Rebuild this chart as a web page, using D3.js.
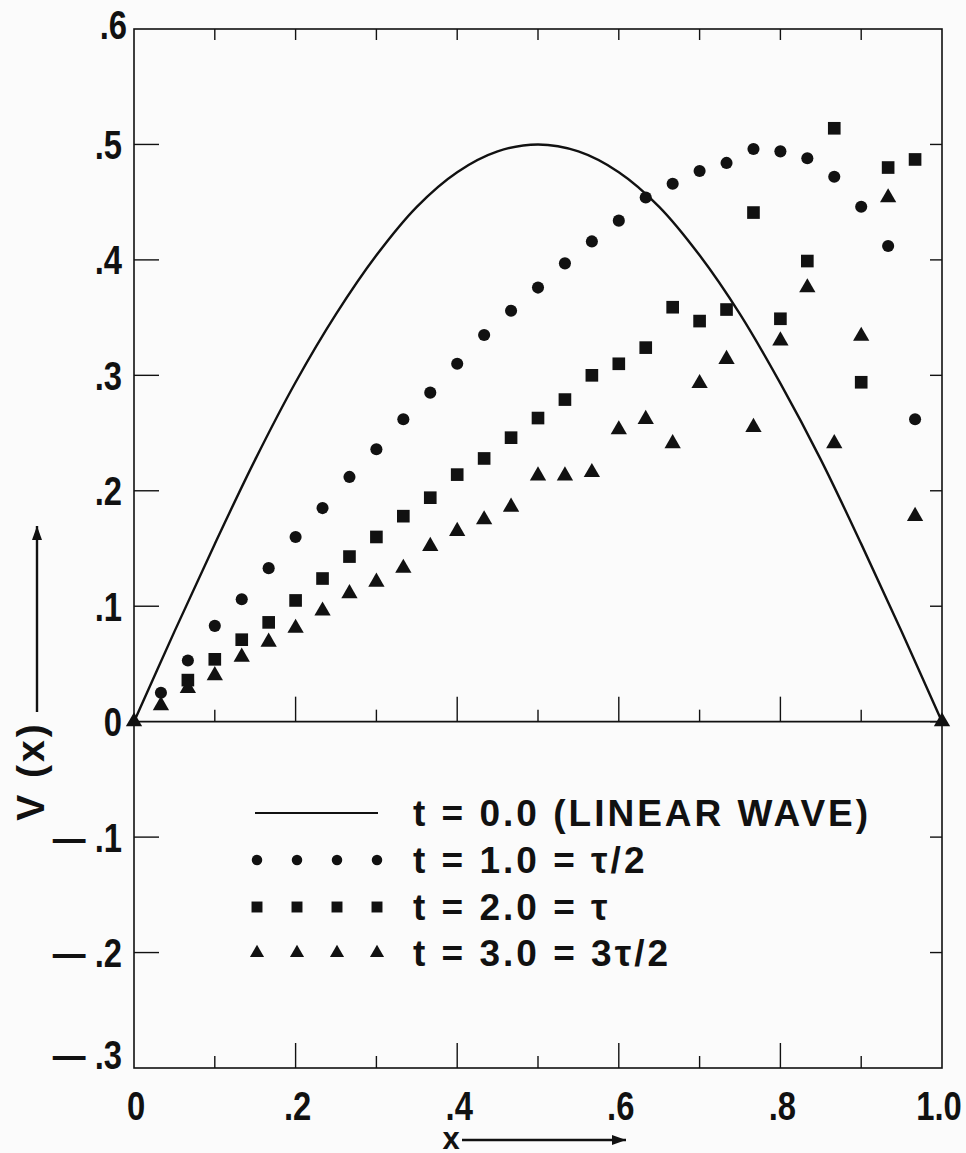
<!DOCTYPE html>
<html>
<head>
<meta charset="utf-8">
<script src="https://cdn.jsdelivr.net/npm/d3@7"></script>
<style>
  body { margin: 0; background: #fbfbfb; }
  svg { display: block; }
  .tick-label { font-family: "Liberation Sans", Arial, sans-serif; font-weight: bold; font-size: 40px; fill: #111; }
  .legend-label { font-family: "Liberation Sans", Arial, sans-serif; font-weight: bold; font-size: 37px; fill: #111; }
</style>
</head>
<body>
<svg id="chart" width="966" height="1153"></svg>
<script>
// x positions of the computed points (k/30)
const xPoints = d3.range(0, 31).map(k => k / 30);

// t = 1.0 (circles), index = k
const circleValues = [null, .025, .053, .083, .106, .133, .160, .185, .212, .236, .262,
    .285, .310, .335, .356, .376, .397, .416, .434, .454, .466,
    .477, .484, .496, .494, .488, .472, .446, .412, .262, null];

// t = 2.0 (squares)
const squareValues = [null, null, .036, .054, .071, .086, .105, .124, .143, .160, .178,
    .194, .214, .228, .246, .263, .279, .300, .310, .324, .359,
    .347, .357, .441, .349, .399, .514, .294, .480, .487, null];

// t = 3.0 (triangles)
const triangleValues = [0, .014, .029, .040, .056, .069, .081, .096, .111, .121, .133,
    .152, .165, .175, .186, .213, .213, .216, .253, .262, .241,
    .293, .314, .255, .330, .376, .241, .334, .454, .178, 0];

// t = 0.0 linear wave
const waveX = [0, .05, .1, .15, .2, .25, .3, .35, .4, .45, .5, .55, .6, .65, .7, .75, .8, .85, .9, .95, 1];
const waveY = [0, .078, .154, .227, .294, .353, .404, .446, .476, .494, .5, .494, .476, .446, .404, .353, .293, .227, .154, .078, 0];

const xTickLabels = ['0', '.2', '.4', '.6', '.8', '1.0'];
const yTickLabels = ['.6', '.5', '.4', '.3', '.2', '.1', '0', '\u2014 .1', '\u2014 .2', '\u2014 .3'];

const legendLabels = ['t = 0.0 (LINEAR WAVE)', 't = 1.0 = \u03c4/2', 't = 2.0 = \u03c4', 't = 3.0 = 3\u03c4/2'];

const svg = d3.select('#chart');
const ink = '#111';
const squeeze = 0.82;

const x = d3.scaleLinear().domain([0, 1]).range([134, 942]);
const y = d3.scaleLinear().domain([-.3, .6]).range([1068, 29]);

// frame
svg.append('rect')
    .attr('x', x(0)).attr('y', y(.6))
    .attr('width', x(1) - x(0)).attr('height', y(-.3) - y(.6))
    .attr('fill', 'none').attr('stroke', ink).attr('stroke-width', 1.6);

// zero line
svg.append('line')
    .attr('x1', x(0)).attr('x2', x(1)).attr('y1', y(0)).attr('y2', y(0))
    .attr('stroke', ink).attr('stroke-width', 1.6);

const tenths = d3.range(1, 10).map(i => i / 10);
const yTenths = d3.range(-2, 6).map(i => i / 10);

// ticks on zero line and bottom: long on even tenths
[0, -.3].forEach(base => {
    svg.append('g').selectAll('line')
        .data(tenths)
        .enter().append('line')
        .attr('x1', d => x(d)).attr('x2', d => x(d))
        .attr('y1', y(base))
        .attr('y2', (d, i) => y(base) - (i % 2 === 1 ? 25 : 12))
        .attr('stroke', ink).attr('stroke-width', 1.4);
});

// top ticks
svg.append('g').selectAll('line')
    .data(tenths)
    .enter().append('line')
    .attr('x1', d => x(d)).attr('x2', d => x(d))
    .attr('y1', y(.6)).attr('y2', y(.6) + 11)
    .attr('stroke', ink).attr('stroke-width', 1.4);

// left and right ticks
svg.append('g').selectAll('line')
    .data(yTenths.filter(d => Math.abs(d) > 1e-9))
    .enter().append('line')
    .attr('x1', x(0)).attr('x2', x(0) + 25)
    .attr('y1', d => y(d)).attr('y2', d => y(d))
    .attr('stroke', ink).attr('stroke-width', 1.4);

svg.append('g').selectAll('line')
    .data(yTenths)
    .enter().append('line')
    .attr('x1', x(1)).attr('x2', x(1) - 12)
    .attr('y1', d => y(d)).attr('y2', d => y(d))
    .attr('stroke', ink).attr('stroke-width', 1.4);

// tick labels, narrowed to look like a condensed face
svg.append('g').selectAll('text')
    .data(xTickLabels)
    .enter().append('text')
    .attr('class', 'tick-label')
    .attr('transform', (d, i) => `translate(${x(i * .2) + (i === 5 ? -3 : 2)}, 1120) scale(${squeeze}, 1)`)
    .attr('text-anchor', 'middle')
    .text(d => d);

svg.append('g').selectAll('text')
    .data(yTickLabels)
    .enter().append('text')
    .attr('class', 'tick-label')
    .attr('transform', (d, i) => {
        let c = y(.6 - i * .1);
        if (i === 0) c -= 5;
        if (i === 9) c -= 14;
        return `translate(${i === 0 ? 127 : 122}, ${c + 14.5}) scale(${squeeze}, 1)`;
    })
    .attr('text-anchor', 'end')
    .text(d => d);

// axis titles
svg.append('text')
    .attr('class', 'legend-label')
    .attr('transform', 'translate(44, 771) rotate(-90)')
    .attr('text-anchor', 'middle')
    .style('font-size', '39px')
    .style('letter-spacing', '3px')
    .text('V (x)');

const arrow = (x1, y1, x2, y2) => {
    svg.append('line')
        .attr('x1', x1).attr('y1', y1).attr('x2', x2).attr('y2', y2)
        .attr('stroke', ink).attr('stroke-width', 2.4);
    const ang = Math.atan2(y2 - y1, x2 - x1);
    const len = 14;
    const w = 5;
    const bx = x2 - len * Math.cos(ang);
    const by = y2 - len * Math.sin(ang);
    const px = -Math.sin(ang) * w;
    const py = Math.cos(ang) * w;
    svg.append('path')
        .attr('d', `M${x2},${y2}L${bx + px},${by + py}L${bx - px},${by - py}Z`)
        .attr('fill', ink);
};

arrow(37, 712, 37, 526);

svg.append('text')
    .attr('class', 'legend-label')
    .attr('x', 451).attr('y', 1149)
    .attr('text-anchor', 'middle')
    .style('font-size', '31px')
    .text('x');
arrow(462, 1140, 626, 1140);

// wave curve
const wave = waveX.map((d, i) => [d, waveY[i]]);
svg.append('path')
    .datum(wave)
    .attr('d', d3.line().x(d => x(d[0])).y(d => y(d[1])).curve(d3.curveCatmullRom))
    .attr('fill', 'none').attr('stroke', ink).attr('stroke-width', 2.4);

// point series
const series = [
    {values: circleValues, type: d3.symbolCircle, size: 115},
    {values: squareValues, type: d3.symbolSquare, size: 160},
    {values: triangleValues, type: d3.symbolTriangle, size: 115}
];

series.forEach(s => {
    const pts = xPoints.map((d, i) => [d, s.values[i]]).filter(p => p[1] !== null);
    svg.append('g').selectAll('path')
        .data(pts)
        .enter().append('path')
        .attr('d', d3.symbol().type(s.type).size(s.size))
        .attr('transform', d => `translate(${x(d[0])}, ${y(d[1])})`)
        .attr('fill', ink);
});

// legend
const rowY = [813, 860, 907, 953];
const markX = [257, 297, 337, 377];

svg.append('line')
    .attr('x1', 255).attr('x2', 378).attr('y1', rowY[0]).attr('y2', rowY[0])
    .attr('stroke', ink).attr('stroke-width', 2);

series.forEach((s, j) => {
    svg.append('g').selectAll('path')
        .data(markX)
        .enter().append('path')
        .attr('d', d3.symbol().type(s.type).size(s.size * .75))
        .attr('transform', d => `translate(${d}, ${rowY[j + 1]})`)
        .attr('fill', ink);
});

svg.append('g').selectAll('text')
    .data(legendLabels)
    .enter().append('text')
    .attr('class', 'legend-label')
    .attr('x', 413)
    .attr('y', (d, i) => rowY[i] + 13)
    .style('letter-spacing', '3px')
    .text(d => d);
</script>
</body>
</html>
